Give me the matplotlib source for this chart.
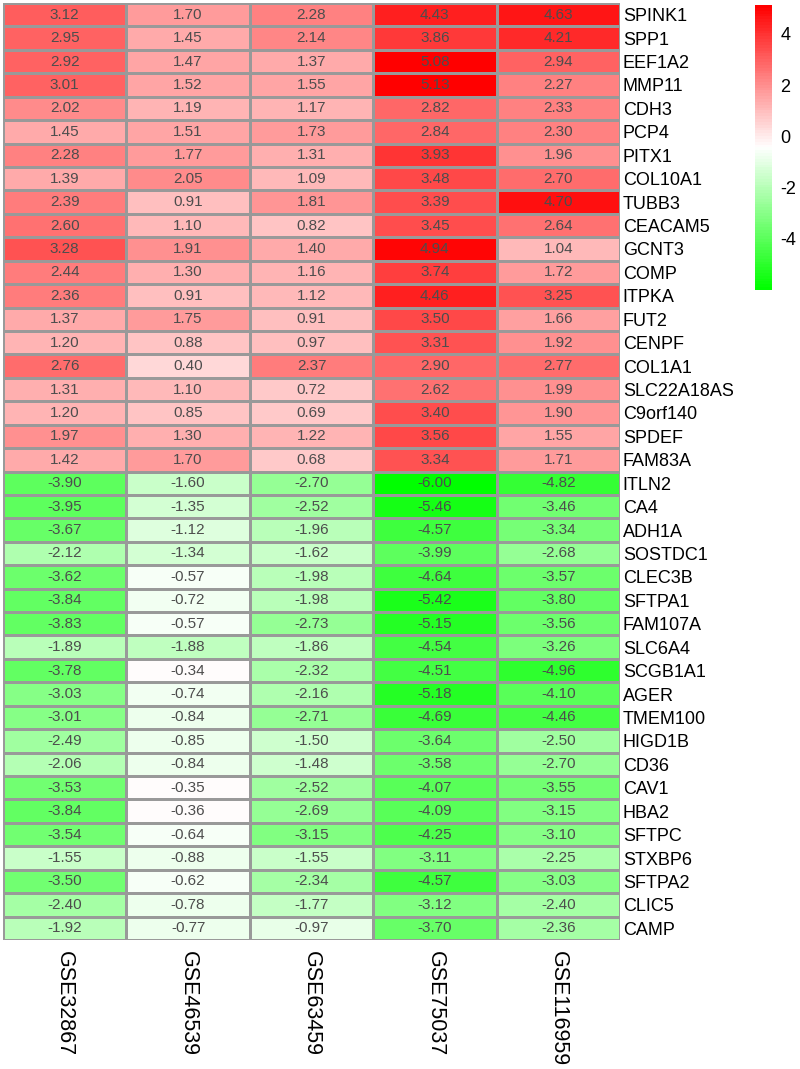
import matplotlib.pyplot as plt
from matplotlib.colors import LinearSegmentedColormap, Normalize
import numpy as np

plt.rcParams['font.family'] = ['Liberation Sans', 'DejaVu Sans']
plt.rcParams['axes.unicode_minus'] = False

datasets = ['GSE32867', 'GSE46539', 'GSE63459', 'GSE75037', 'GSE116959']
genes = ['SPINK1', 'SPP1', 'EEF1A2', 'MMP11', 'CDH3', 'PCP4', 'PITX1', 'COL10A1',
         'TUBB3', 'CEACAM5', 'GCNT3', 'COMP', 'ITPKA', 'FUT2', 'CENPF', 'COL1A1',
         'SLC22A18AS', 'C9orf140', 'SPDEF', 'FAM83A', 'ITLN2', 'CA4', 'ADH1A',
         'SOSTDC1', 'CLEC3B', 'SFTPA1', 'FAM107A', 'SLC6A4', 'SCGB1A1', 'AGER',
         'TMEM100', 'HIGD1B', 'CD36', 'CAV1', 'HBA2', 'SFTPC', 'STXBP6', 'SFTPA2',
         'CLIC5', 'CAMP']

gse32867 = [3.12, 2.95, 2.92, 3.01, 2.02, 1.45, 2.28, 1.39, 2.39, 2.60, 3.28, 2.44, 2.36,
            1.37, 1.20, 2.76, 1.31, 1.20, 1.97, 1.42, -3.90, -3.95, -3.67, -2.12, -3.62,
            -3.84, -3.83, -1.89, -3.78, -3.03, -3.01, -2.49, -2.06, -3.53, -3.84, -3.54,
            -1.55, -3.50, -2.40, -1.92]
gse46539 = [1.70, 1.45, 1.47, 1.52, 1.19, 1.51, 1.77, 2.05, 0.91, 1.10, 1.91, 1.30, 0.91,
            1.75, 0.88, 0.40, 1.10, 0.85, 1.30, 1.70, -1.60, -1.35, -1.12, -1.34, -0.57,
            -0.72, -0.57, -1.88, -0.34, -0.74, -0.84, -0.85, -0.84, -0.35, -0.36, -0.64,
            -0.88, -0.62, -0.78, -0.77]
gse63459 = [2.28, 2.14, 1.37, 1.55, 1.17, 1.73, 1.31, 1.09, 1.81, 0.82, 1.40, 1.16, 1.12,
            0.91, 0.97, 2.37, 0.72, 0.69, 1.22, 0.68, -2.70, -2.52, -1.96, -1.62, -1.98,
            -1.98, -2.73, -1.86, -2.32, -2.16, -2.71, -1.50, -1.48, -2.52, -2.69, -3.15,
            -1.55, -2.34, -1.77, -0.97]
gse75037 = [4.43, 3.86, 5.08, 5.13, 2.82, 2.84, 3.93, 3.48, 3.39, 3.45, 4.94, 3.74, 4.46,
            3.50, 3.31, 2.90, 2.62, 3.40, 3.56, 3.34, -6.00, -5.46, -4.57, -3.99, -4.64,
            -5.42, -5.15, -4.54, -4.51, -5.18, -4.69, -3.64, -3.58, -4.07, -4.09, -4.25,
            -3.11, -4.57, -3.12, -3.70]
gse116959 = [4.63, 4.21, 2.94, 2.27, 2.33, 2.30, 1.96, 2.70, 4.70, 2.64, 1.04, 1.72, 3.25,
             1.66, 1.92, 2.77, 1.99, 1.90, 1.55, 1.71, -4.82, -3.46, -3.34, -2.68, -3.57,
             -3.80, -3.56, -3.26, -4.96, -4.10, -4.46, -2.50, -2.70, -3.55, -3.15, -3.10,
             -2.25, -3.03, -2.40, -2.36]

vals = np.array([gse32867, gse46539, gse63459, gse75037, gse116959]).T

# green - white - red ramp, like pheatmap
cmap = LinearSegmentedColormap.from_list('gwr', ['#00FF00', '#FFFFFF', '#FF0000'], N=100)
norm = Normalize(vmin=vals.min(), vmax=vals.max())

fig = plt.figure(figsize=(8, 10.69), dpi=100)
ax = fig.add_axes([3 / 800, 1 - 940 / 1069, 617 / 800, 937 / 1069])
nr, nc = vals.shape
mesh = ax.pcolormesh(np.arange(nc + 1), np.arange(nr + 1), vals, cmap=cmap, norm=norm,
                     edgecolors='#999999', linewidth=0.8)
ax.set_xlim(0, nc)
ax.set_ylim(nr, 0)
for s in ax.spines.values():
    s.set_visible(False)

for i in range(nr):
    for j in range(nc):
        ax.text(j + 0.5, i + 0.5, f'{vals[i, j]:.2f}', ha='center', va='center',
                fontsize=11, color='#4D4D4D')

ax.set_yticks(np.arange(nr) + 0.5)
ax.set_yticklabels(genes, fontsize=13)
ax.yaxis.tick_right()
ax.set_xticks(np.arange(nc) + 0.5)
ax.set_xticklabels(datasets, fontsize=15.5, rotation=-90, va='top', ha='center')
ax.tick_params(length=0, pad=2)
ax.tick_params(axis='x', pad=8)

cax = fig.add_axes([755 / 800, 1 - 290 / 1069, 17 / 800, 285 / 1069])
cb = fig.colorbar(mesh, cax=cax)
cb.outline.set_visible(False)
cb.set_ticks([-4, -2, 0, 2, 4])
cb.ax.tick_params(length=0, labelsize=13, pad=6)

fig.savefig('out.png', dpi=100, facecolor='white')
